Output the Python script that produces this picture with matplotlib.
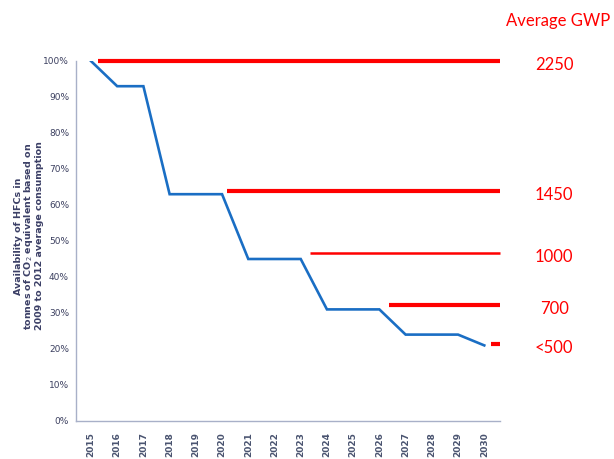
import matplotlib
matplotlib.use("Agg")
import matplotlib.pyplot as plt
from matplotlib.ticker import FuncFormatter

years = list(range(2015, 2031))
availability = [100, 93, 93, 63, 63, 63, 45, 45, 45, 31, 31, 31, 24, 24, 24, 21]

gwp_labels = ["2250", "1450", "1000", "700", "<500"]
gwp_levels = [100, 64, 46.7, 32.3, 21.5]
gwp_start = [2015.25, 2020.2, 2023.35, 2026.35, 2030.25]
gwp_end = 2030.6

RED_FONT = ["Lato", "DejaVu Sans"]

fig = plt.figure(figsize=(6.14, 4.59), dpi=100)
ax = fig.add_axes([76/614, 38/459, 424/614, 360/459])

ax.plot(years, availability, color="#1a6ec4", lw=1.9, solid_joinstyle="miter", zorder=3)

for lab, lev, st in zip(gwp_labels, gwp_levels, gwp_start):
    lw = 1.8 if lab == "1000" else 3.0
    ax.plot([st, gwp_end], [lev, lev], color="#ff0000", lw=lw, solid_capstyle="butt", clip_on=False, zorder=2)
    ax.text(2032.67, lev - 1.1, lab, color="#ff0000", fontsize=12, ha="center", va="center",
            family=RED_FONT, clip_on=False)

fig.text(558/614, 1 - 21/459, "Average GWP", color="#ff0000", fontsize=12, ha="center", va="center",
         family=RED_FONT)

ax.set_xlim(2014.43, 2030.6)
ax.set_ylim(0, 100)
ax.set_xticks(years)
ax.set_xticklabels([str(y) for y in years], rotation=90, fontsize=6.5, fontweight="bold", color="#4a5470")
ax.set_yticks(range(0, 101, 10))
ax.yaxis.set_major_formatter(FuncFormatter(lambda v, p: f"{int(v)}%"))
for t in ax.get_yticklabels():
    t.set_fontsize(6.5)
    t.set_color("#3c4060")
ax.tick_params(axis="both", length=0, pad=5)
ax.tick_params(axis="x", pad=8)

for s in ["top", "right"]:
    ax.spines[s].set_visible(False)
for s in ["left", "bottom"]:
    ax.spines[s].set_color("#a8b0c8")
    ax.spines[s].set_linewidth(1.0)

fig.text(29/614, 1 - 236/459,
         "Availability of HFCs in\ntonnes of CO$_2$ equivalent based on\n2009 to 2012 average consumption",
         rotation=90, ha="center", va="center", fontsize=6.8, fontweight="bold", color="#3b3f66",
         linespacing=0.95)

fig.savefig("out.png", dpi=100)
